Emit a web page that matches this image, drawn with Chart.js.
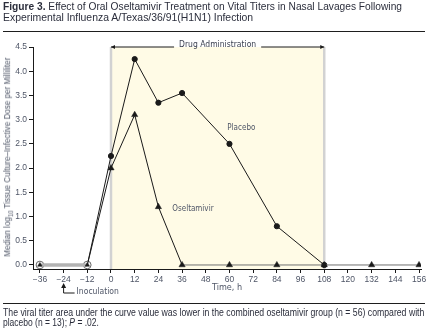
<!DOCTYPE html>
<html>
<head>
<meta charset="utf-8">
<script src="https://cdn.jsdelivr.net/npm/chart.js@4"></script>
<style>
  body { margin: 0; width: 438px; height: 333px; overflow: hidden; background: #fff; position: relative;
         font-family: 'Liberation Sans', Arial, sans-serif; color: #2b2e3c; }
  #wrap { position: absolute; left: 0; top: 0; width: 438px; height: 333px; }
  .line { position: absolute; left: 3px; white-space: nowrap; transform-origin: 0 50%; }
  .title { font-size: 11px; line-height: 11px; }
  .note { font-size: 10px; line-height: 10px; }
  .rule { position: absolute; left: 3px; width: 422px; border-top: 1.5px solid #1e1e1e; }
  #ylab { position: absolute; left: 8px; top: 157px; white-space: nowrap; font-size: 9px; color: #4f5667; }
  #ylab sub { font-size: 6.5px; }
</style>
</head>
<body>
<div id="wrap"><canvas id="titerChart"></canvas></div>
<div class="line title" style="top:1px" data-w="399"><b>Figure 3.</b> Effect of Oral Oseltamivir Treatment on Vital Titers in Nasal Lavages Following</div>
<div class="line title" style="top:12px" data-w="250">Experimental Influenza A/Texas/36/91(H1N1) Infection</div>
<div class="rule" style="top:31px"></div>
<div id="ylab" data-w="199">Median log<sub>10</sub> Tissue Culture–Infective Dose per Milliliter</div>
<div class="rule" style="top:303px"></div>
<div class="line note" style="top:308px" data-w="421">The viral titer area under the curve value was lower in the combined oseltamivir group (n = 56) compared with</div>
<div class="line note" style="top:318px" data-w="96">placebo (n = 13); <i>P</i> = .02.</div>

<script>
// sampling times (hours relative to first dose)
const hours = [-36, -12, 0, 12, 24, 36, 60, 84, 108, 132, 156];
const placeboTiter = [0, 0, 2.25, 4.25, 3.35, 3.55, 2.5, 0.8, 0];
const oseltamivirTiter = [0, 0, 2.0, 3.1, 1.2, 0, 0, 0, 0, 0, 0];

const xTicks = [-36, -24, -12, 0, 12, 24, 36, 48, 60, 72, 84, 96, 108, 120, 132, 144, 156];
const yTicks = [0, 0.5, 1, 1.5, 2, 2.5, 3, 3.5, 4, 4.5];

const drugWindow = [0, 108];
const inoculationHour = -24;

// squeeze the text blocks to the column width
document.querySelectorAll('.line').forEach(el => {
  el.style.transform = `scaleX(${el.dataset.w / el.offsetWidth})`;
});
const ylab = document.getElementById('ylab');
ylab.style.transform = `translate(-50%, -50%) rotate(-90deg) scaleX(${ylab.dataset.w / ylab.offsetWidth})`;

const FONT = "'Liberation Sans', Arial, sans-serif";
const NARROW = "'DejaVu Sans Condensed', sans-serif";
const TEXT = '#4f5667';
const INK = '#1a1a1a';

const toPoints = vals => vals.map((y, i) => ({ x: hours[i], y }));

// flat stretches at zero are drawn as a grey baseline
const flat = c => c.p0.parsed.y === 0 && c.p1.parsed.y === 0;
const segStyle = {
  borderColor: c => flat(c) ? (c.p1.parsed.x <= 0 ? '#b3b3b3' : '#707070') : INK,
  borderWidth: c => flat(c) && c.p1.parsed.x <= 0 ? 3 : 1
};

const curveLabels = [
  { text: 'Placebo', x: 66, y: 2.83 },
  { text: 'Oseltamivir', x: 41.5, y: 1.16 }
];

const decorations = {
  id: 'decorations',
  beforeDatasetsDraw(chart) {
    const { ctx, chartArea, scales: { x, y } } = chart;
    const x0 = x.getPixelForValue(drugWindow[0]);
    const x1 = x.getPixelForValue(drugWindow[1]);
    const top = y.getPixelForValue(4.5);
    ctx.save();
    ctx.fillStyle = '#fffbe6';
    ctx.fillRect(x0, top, x1 - x0, chartArea.bottom - top);
    ctx.strokeStyle = '#d2d2d2';
    ctx.lineWidth = 2.5;
    [x0, x1].forEach(px => {
      ctx.beginPath();
      ctx.moveTo(px, top);
      ctx.lineTo(px, chartArea.bottom);
      ctx.stroke();
    });
    ctx.restore();
  },
  afterDraw(chart) {
    const { ctx, chartArea, scales: { x, y } } = chart;
    const x0 = x.getPixelForValue(drugWindow[0]);
    const x1 = x.getPixelForValue(drugWindow[1]);
    const top = y.getPixelForValue(4.5);
    ctx.save();

    // "Drug Administration" bracket
    ctx.font = '8.5px ' + NARROW;
    ctx.textAlign = 'center';
    ctx.textBaseline = 'middle';
    ctx.fillStyle = '#3a3f4f';
    const label = 'Drug Administration';
    const mid = (x0 + x1) / 2;
    const half = ctx.measureText(label).width / 2 + 5;
    ctx.fillText(label, mid, top - 2);
    ctx.strokeStyle = INK;
    ctx.lineWidth = 1;
    ctx.beginPath();
    ctx.moveTo(x0, top); ctx.lineTo(mid - half, top);
    ctx.moveTo(mid + half, top); ctx.lineTo(x1, top);
    ctx.stroke();
    ctx.fillStyle = INK;
    ctx.beginPath();
    ctx.moveTo(x0, top); ctx.lineTo(x0 + 4, top - 2); ctx.lineTo(x0 + 4, top + 2);
    ctx.moveTo(x1, top); ctx.lineTo(x1 - 4, top - 2); ctx.lineTo(x1 - 4, top + 2);
    ctx.fill();

    // curve names
    ctx.font = '8px ' + NARROW;
    ctx.fillStyle = TEXT;
    curveLabels.forEach(l => {
      ctx.fillText(l.text, x.getPixelForValue(l.x), y.getPixelForValue(l.y));
    });

    // inoculation marker under the axis
    const ix = x.getPixelForValue(inoculationHour);
    const b = chartArea.bottom;
    ctx.strokeStyle = INK;
    ctx.beginPath();
    ctx.moveTo(ix, b + 16); ctx.lineTo(ix, b + 24); ctx.lineTo(ix + 11, b + 24);
    ctx.stroke();
    ctx.fillStyle = INK;
    ctx.beginPath();
    ctx.moveTo(ix, b + 14); ctx.lineTo(ix - 2.5, b + 19); ctx.lineTo(ix + 2.5, b + 19);
    ctx.fill();
    ctx.font = '8.5px ' + NARROW;
    ctx.fillStyle = TEXT;
    ctx.textAlign = 'left';
    ctx.fillText('Inoculation', ix + 13, b + 23);
    ctx.restore();
  }
};

new Chart(document.getElementById('titerChart'), {
  type: 'line',
  data: {
    datasets: [{
      label: 'Oseltamivir',
      data: toPoints(oseltamivirTiter),
      order: 0,
      pointStyle: 'triangle',
      pointRadius: c => c.parsed && c.parsed.x < 0 ? 2.6 : 3.6,
      pointBackgroundColor: INK,
      pointBorderColor: INK,
      pointBorderWidth: 0.5,
      segment: segStyle,
      borderColor: INK,
      borderWidth: 1
    }, {
      label: 'Placebo',
      data: toPoints(placeboTiter),
      order: 1,
      pointStyle: 'circle',
      pointRadius: c => c.parsed && c.parsed.x < 0 ? 3.8 : 2.6,
      pointBackgroundColor: c => c.parsed && c.parsed.x < 0 ? '#ffffff' : INK,
      pointBorderColor: c => c.parsed && c.parsed.x < 0 ? '#666' : INK,
      pointBorderWidth: 1,
      segment: segStyle,
      borderColor: INK,
      borderWidth: 1
    }]
  },
  options: {
    responsive: true,
    maintainAspectRatio: false,
    animation: false,
    layout: { padding: { top: 47, right: 17, bottom: 40, left: 0 } },
    plugins: { legend: { display: false }, tooltip: { enabled: false } },
    scales: {
      x: {
        type: 'linear',
        min: -39.5,
        max: 157,
        afterBuildTicks: s => { s.ticks = xTicks.map(v => ({ value: v })); },
        afterFit: s => { s.height = 24; },
        grid: { drawOnChartArea: false, tickLength: 4, color: INK },
        border: { color: INK, width: 1 },
        ticks: {
          font: { size: 8.5, family: FONT }, color: TEXT, padding: 2, maxRotation: 0,
          callback: v => v < 0 ? '\u2212' + Math.abs(v) : String(v)
        },
        title: { display: true, text: 'Time, h', font: { size: 9, family: NARROW }, color: TEXT, padding: 0 }
      },
      y: {
        min: -0.083,
        max: 4.5,
        afterBuildTicks: s => { s.ticks = yTicks.map(v => ({ value: v })); },
        afterFit: s => { s.width = 33; },
        grid: { drawOnChartArea: false, tickLength: 4, color: INK },
        border: { color: INK, width: 1 },
        ticks: {
          font: { size: 8.5, family: FONT }, color: TEXT, padding: 2,
          callback: v => v.toFixed(1)
        }
      }
    }
  },
  plugins: [decorations]
});
</script>
</body>
</html>
